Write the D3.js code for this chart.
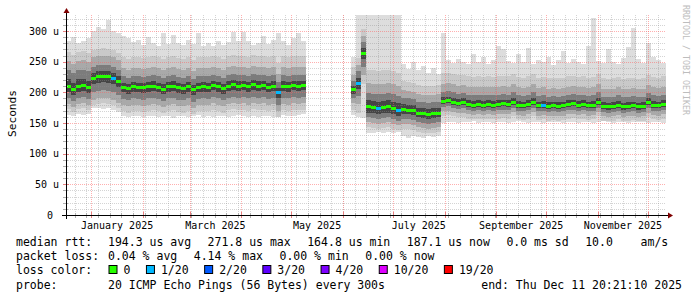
<!DOCTYPE html>
<html>
<head>
<meta charset="utf-8">
<script src="https://cdn.jsdelivr.net/npm/d3@7"></script>
<style>
body { margin: 0; background: #ffffff; }
svg text { font-family: "DejaVu Sans Mono", monospace; fill: #000; }
</style>
</head>
<body>
<script>
// --- data (one value every 3 days, starting at the graph start) ---
var startTime = Date.UTC(2024, 11, 16, 20, 21, 10);
var endTime = Date.UTC(2025, 11, 11, 20, 21, 10);
var stepDays = 3;

// median rtt in microseconds (null = no data)
var median = [
  211,206,211,212,209,224,226,227,226,224,219,209,207,210,209,208,210,211,209,206,
  210,211,208,207,210,205,209,210,209,212,210,207,211,213,211,212,210,213,211,212,
  209,211,200,211,210,212,211,212,
  null,null,null,null,null,null,null,null,null,
  206,216,264,177,176,175,176,177,175,172,173,172,171,167,166,165,166,167,
  186,187,185,183,184,181,180,181,180,181,180,181,182,181,185,180,179,181,185,179,
  180,178,179,178,179,181,182,180,181,179,180,185,178,177,178,180,177,178,179,177,
  178,184,180,179,181
];
// slowest ping of the 20
var pingMax = [
  283,290,280,284,288,300,306,303,318,300,296,292,288,282,285,278,290,281,276,296,
  279,294,280,277,286,279,297,276,281,275,283,277,282,298,284,298,283,277,281,292,
  279,285,296,283,278,288,297,284,
  null,null,null,null,null,null,null,null,null,
  258,326,326,326,326,326,326,326,326,326,246,238,250,236,243,232,240,230,
  296,252,248,255,250,246,262,250,258,246,252,275,270,251,248,262,250,272,247,253,
  249,258,245,252,268,248,255,250,246,275,321,251,248,270,250,247,256,274,305,255,
  248,280,257,252,248
];
// fastest ping of the 20
var pingMin = [
  163,162,164,163,165,174,175,173,174,172,168,161,160,162,161,159,161,162,160,161,
  162,158,161,162,160,161,163,160,162,159,161,162,160,161,163,161,160,162,159,161,
  162,160,161,163,161,162,163,164,
  null,null,null,null,null,null,null,null,null,
  163,160,158,134,133,135,134,136,133,135,128,126,129,127,126,128,127,129,
  150,152,151,150,152,151,153,150,151,152,150,151,152,150,151,153,151,150,152,151,
  150,151,152,151,150,152,151,150,151,152,150,151,153,151,150,152,151,150,151,152,
  151,150,152,151,150
];
// points with lost pings (index, count of 20)
var lossIndex = [9, 42, 58, 62, 66, 95];
var lossCount = [1, 1, 1, 1, 1, 1];

// smoke spread around the median for each period (pings 3,5,7,9 and 18,16,14,12)
var profileStart = [0, 5, 11, 57, 58, 60, 67, 75];
var profileLow = [
  [-38,-30,-20,-10], [-45,-36,-24,-10], [-40,-30,-20,-9], [-34,-24,-16,-8],
  [-50,-35,-22,-10], [-34,-26,-18,-10], [-32,-24,-16,-8], [-24,-17,-10,-5]
];
var profileHigh = [
  [55,40,25,10], [45,33,18,8], [48,30,17,7], [35,22,12,5],
  [40,28,18,8], [60,38,22,10], [45,30,18,8], [45,28,15,6]
];

var yTicks = [0, 50, 100, 150, 200, 250, 300];
var yTickLabels = ["0\u00a0", "50 u", "100 u", "150 u", "200 u", "250 u", "300 u"];
var xTickLabels = ["January 2025", "March 2025", "May 2025", "July 2025", "September 2025", "November 2025"];

var lossLabels = ["0", "1/20", "2/20", "3/20", "4/20", "10/20", "19/20"];
var lossColors = ["#26ff00", "#00b8ff", "#0059ff", "#5e00ff", "#7e00ff", "#dd00ff", "#ff0000"];
var lossSteps = [0, 1, 2, 3, 4, 10, 19];

var rttLegend = ["194.3 us avg", "271.8 us max", "164.8 us min", "187.1 us now", "0.0 ms sd", "10.0    am/s"];
var lossLegend = ["0.04 % avg", "4.14 % max", "0.00 % min", "0.00 % now"];
var probeText = "20 ICMP Echo Pings (56 Bytes) every 300s";
var endText = "end: Thu Dec 11 20:21:10 2025";

var smokeColors = ["#dddddd", "#c9c9c9", "#a9a9a9", "#7c7c7c", "#454545"];

// --- layout ---
var width = 697, height = 297;
var plotLeft = 66, plotRight = 666, plotTop = 15, plotBottom = 215;

var svg = d3.select("body").append("svg")
    .attr("width", width)
    .attr("height", height);

svg.append("rect").attr("width", width).attr("height", height).attr("fill", "#ffffff");

var x = d3.scaleUtc().domain([new Date(startTime), new Date(endTime)]).range([plotLeft, plotRight]);
var y = d3.scaleLinear().domain([0, 326.1]).range([plotBottom, plotTop]);

var stepMs = stepDays * 864e5;
var rows = [];
median.forEach(function(m, i) {
    if (m == null) return;
    var seg = d3.bisectRight(profileStart, i) - 1;
    var li = lossIndex.indexOf(i);
    var lost = li < 0 ? 0 : lossCount[li];
    var levels = [[pingMin[i], pingMax[i]]];
    for (var k = 0; k < 4; k++) {
        levels.push([m + profileLow[seg][k], m + profileHigh[seg][k]]);
    }
    rows.push({
        t: new Date(startTime + i * stepMs),
        t2: new Date(startTime + (i + 1) * stepMs),
        med: m,
        levels: levels,
        color: lossColors[d3.bisectRight(lossSteps, lost) - 1]
    });
});

// smoke
var smoke = svg.append("g").attr("shape-rendering", "crispEdges");
smokeColors.forEach(function(c, k) {
    smoke.append("g").selectAll("rect")
        .data(rows)
        .enter().append("rect")
        .attr("x", function(d) { return x(d.t); })
        .attr("width", function(d) { return x(d.t2) - x(d.t); })
        .attr("y", function(d) { return y(d.levels[k][1]); })
        .attr("height", function(d) { return y(d.levels[k][0]) - y(d.levels[k][1]); })
        .attr("fill", c);
});

// grid
var grid = svg.append("g").attr("shape-rendering", "crispEdges").attr("stroke-dasharray", "1,1");
var minorColor = "rgba(143,143,143,0.38)";
var majorColor = "rgba(255,95,95,0.5)";

var yMinor = d3.range(10, 326, 10).filter(function(v) { return v % 50 != 0; });
grid.selectAll(".hmin").data(yMinor).enter().append("line")
    .attr("x1", plotLeft).attr("x2", plotRight)
    .attr("y1", function(d) { return Math.round(y(d)) + 0.5; })
    .attr("y2", function(d) { return Math.round(y(d)) + 0.5; })
    .attr("stroke", minorColor);

var xMinor = d3.utcSunday.range(new Date(startTime), new Date(endTime));
grid.selectAll(".vmin").data(xMinor).enter().append("line")
    .attr("y1", plotTop).attr("y2", plotBottom)
    .attr("x1", function(d) { return Math.round(x(d)) + 0.5; })
    .attr("x2", function(d) { return Math.round(x(d)) + 0.5; })
    .attr("stroke", minorColor);

grid.selectAll(".hmaj").data(yTicks.slice(1)).enter().append("line")
    .attr("x1", plotLeft).attr("x2", plotRight)
    .attr("y1", function(d) { return Math.round(y(d)) + 0.5; })
    .attr("y2", function(d) { return Math.round(y(d)) + 0.5; })
    .attr("stroke", majorColor);

var xMajor = d3.utcMonth.range(new Date(startTime), new Date(endTime));
grid.selectAll(".vmaj").data(xMajor).enter().append("line")
    .attr("y1", plotTop).attr("y2", plotBottom)
    .attr("x1", function(d) { return Math.round(x(d)) + 0.5; })
    .attr("x2", function(d) { return Math.round(x(d)) + 0.5; })
    .attr("stroke", majorColor);

// median, coloured by loss
svg.append("g").attr("shape-rendering", "crispEdges").selectAll("rect")
    .data(rows)
    .enter().append("rect")
    .attr("x", function(d) { return x(d.t); })
    .attr("width", function(d) { return x(d.t2) - x(d.t); })
    .attr("y", function(d) { return Math.round(y(d.med)) - 1; })
    .attr("height", 3)
    .attr("fill", function(d) { return d.color; });

// axes
var axes = svg.append("g").attr("shape-rendering", "crispEdges");
axes.selectAll(".xtmin").data(xMinor).enter().append("line")
    .attr("x1", function(d) { return Math.round(x(d)) + 0.5; })
    .attr("x2", function(d) { return Math.round(x(d)) + 0.5; })
    .attr("y1", plotBottom - 2).attr("y2", plotBottom + 3)
    .attr("stroke", "#b0b0b0");
axes.selectAll(".xtmaj").data(xMajor).enter().append("line")
    .attr("x1", function(d) { return Math.round(x(d)) + 0.5; })
    .attr("x2", function(d) { return Math.round(x(d)) + 0.5; })
    .attr("y1", plotBottom - 3).attr("y2", plotBottom + 3)
    .attr("stroke", "#e88080");
axes.selectAll(".ytmin").data(yMinor).enter().append("line")
    .attr("x1", plotLeft - 3).attr("x2", plotLeft + 2)
    .attr("y1", function(d) { return Math.round(y(d)) + 0.5; })
    .attr("y2", function(d) { return Math.round(y(d)) + 0.5; })
    .attr("stroke", "#b0b0b0");
axes.selectAll(".ytmaj").data(yTicks.slice(1)).enter().append("line")
    .attr("x1", plotLeft - 3).attr("x2", plotLeft + 3)
    .attr("y1", function(d) { return Math.round(y(d)) + 0.5; })
    .attr("y2", function(d) { return Math.round(y(d)) + 0.5; })
    .attr("stroke", "#e88080");

axes.append("line").attr("x1", plotLeft - 4).attr("x2", plotRight + 4)
    .attr("y1", plotBottom + 0.5).attr("y2", plotBottom + 0.5).attr("stroke", "#000");
axes.append("line").attr("x1", plotLeft + 0.5).attr("x2", plotLeft + 0.5)
    .attr("y1", plotBottom + 4).attr("y2", plotTop - 3).attr("stroke", "#000");
svg.append("path").attr("d", "M" + (plotRight + 2) + "," + (plotBottom - 2.5) + "L" + (plotRight + 7) + "," + (plotBottom + 0.5) + "L" + (plotRight + 2) + "," + (plotBottom + 3.5) + "Z")
    .attr("fill", "#7f0000");
svg.append("path").attr("d", "M" + (plotLeft - 2.5) + "," + (plotTop - 2) + "L" + (plotLeft + 0.5) + "," + (plotTop - 7) + "L" + (plotLeft + 3.5) + "," + (plotTop - 2) + "Z")
    .attr("fill", "#7f0000");

// y labels
svg.append("g").selectAll("text").data(yTicks).enter().append("text")
    .attr("x", 59)
    .attr("y", function(d) { return y(d) + 3.8; })
    .attr("text-anchor", "end")
    .style("font-size", "10px")
    .text(function(d, i) { return yTickLabels[i]; });

// x labels, centred in their month
var parseMonth = d3.utcParse("%B %Y");
svg.append("g").selectAll("text").data(xTickLabels).enter().append("text")
    .attr("x", function(d) {
        var m = parseMonth(d);
        return (x(m) + x(d3.utcMonth.offset(m, 1))) / 2;
    })
    .attr("y", 228.5)
    .attr("text-anchor", "middle")
    .style("font-size", "10px")
    .text(function(d) { return d; });

svg.append("text")
    .attr("transform", "translate(15.5,113.5) rotate(-90)")
    .attr("text-anchor", "middle")
    .style("font-size", "11.2px")
    .text("Seconds");

svg.append("text")
    .attr("transform", "translate(683,5) rotate(90)")
    .style("font-size", "8.3px")
    .style("fill", "#bdbdbd")
    .text("RRDTOOL / TOBI OETIKER");

// legend
var legendSize = "11.5px";
function legendRow(label, items, yy) {
    svg.append("text").attr("x", 16).attr("y", yy).style("font-size", legendSize)
        .text(label);
    var xx = 108;
    items.forEach(function(s) {
        var t = svg.append("text").attr("x", xx).attr("y", yy)
            .attr("xml:space", "preserve")
            .style("white-space", "pre")
            .style("font-size", legendSize)
            .text(s);
        xx += t.node().getComputedTextLength() + 16.5;
    });
}
legendRow("median rtt:", rttLegend, 245.5);
legendRow("packet loss:", lossLegend, 260);

svg.append("text").attr("x", 16).attr("y", 274).style("font-size", legendSize).text("loss color:");
var lx = 108.5;
lossLabels.forEach(function(s, i) {
    svg.append("rect").attr("x", lx + 0.5).attr("y", 265.5).attr("width", 8).attr("height", 8)
        .attr("fill", lossColors[i]).attr("stroke", "#000").attr("stroke-width", 1);
    var t = svg.append("text").attr("x", lx + 15).attr("y", 274)
        .style("font-size", legendSize).text(s);
    lx += 15 + t.node().getComputedTextLength() + 15.5;
});

svg.append("text").attr("x", 16).attr("y", 288.5).style("font-size", legendSize).text("probe:");
svg.append("text").attr("x", 108).attr("y", 288.5).style("font-size", legendSize).text(probeText);
svg.append("text").attr("x", 682).attr("y", 288.5).attr("text-anchor", "end")
    .style("font-size", legendSize).text(endText);
</script>
</body>
</html>
